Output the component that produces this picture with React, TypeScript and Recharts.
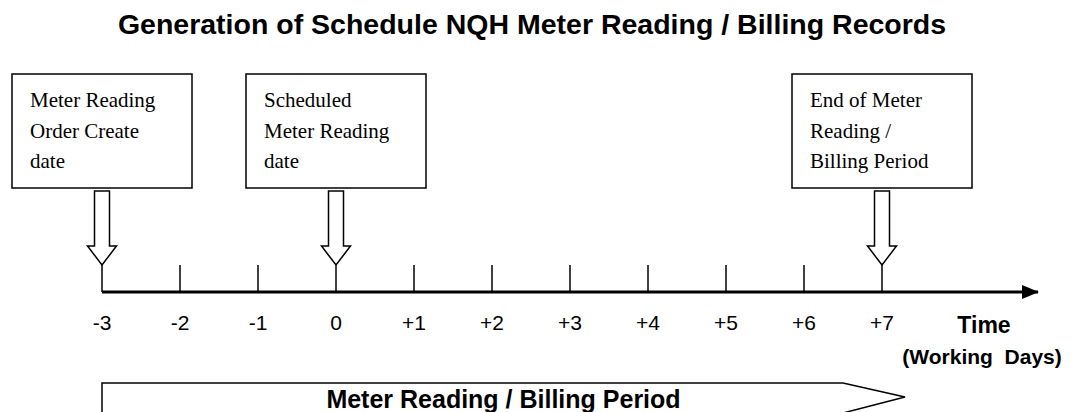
import React from 'react';
import {
  ComposedChart,
  XAxis,
  YAxis,
  Scatter,
  ReferenceDot,
  ReferenceArea,
  Customized
} from 'recharts';

document.body.style.margin = '0';

// working days on the time line
const DAYS = [-3, -2, -1, 0, 1, 2, 3, 4, 5, 6, 7];
const DOMAIN_END = 9;

// milestones with their box texts
const EVENT_DAYS = [-3, 0, 7];
const EVENT_TEXTS = [
  ['Meter Reading', 'Order Create', 'date'],
  ['Scheduled', 'Meter Reading', 'date'],
  ['End of Meter', 'Reading /', 'Billing Period']
];

const PERIOD_START = -3;
const PERIOD_END = 7;

const TITLE = 'Generation of Schedule NQH Meter Reading / Billing Records';
const PERIOD_LABEL = 'Meter Reading / Billing Period';

const SANS = 'Arial, "Liberation Sans", sans-serif';
const SERIF = '"Times New Roman", "Liberation Serif", serif';

const tickData = DAYS.map((d) => ({ day: d, y: 0 }));
const eventData = EVENT_DAYS.map((d, i) => ({ day: d, y: 0, lines: EVENT_TEXTS[i] }));

const fmtDay = (v: number) => (v > 0 ? `+${v}` : `${v}`);

const TickMark = (props: any) => {
  const { cx, cy } = props;
  return <line x1={cx} y1={cy - 27} x2={cx} y2={cy} stroke="#000" strokeWidth={1.5} />;
};

const EventMarker = (props: any) => {
  const { cx, cy, payload } = props;
  const top = cy - 218;
  const left = cx - 90;
  const bottom = top + 114;
  const shaftTop = bottom + 3;
  const shaftBottom = cy - 46;
  const tip = cy - 27;
  const pts = [
    [cx - 7.5, shaftTop],
    [cx + 7.5, shaftTop],
    [cx + 7.5, shaftBottom],
    [cx + 14.5, shaftBottom],
    [cx, tip],
    [cx - 14.5, shaftBottom],
    [cx - 7.5, shaftBottom]
  ]
    .map((p) => p.join(','))
    .join(' ');
  return (
    <g>
      <rect x={left} y={top} width={180} height={114} fill="#fff" stroke="#000" strokeWidth={1.5} />
      {payload.lines.map((t: string, i: number) => (
        <text key={t} x={left + 18} y={top + 33 + i * 30.5} fontFamily={SERIF} fontSize={21} fill="#000">
          {t}
        </text>
      ))}
      <polygon points={pts} fill="#fff" stroke="#000" strokeWidth={1.5} />
    </g>
  );
};

const AxisArrow = (props: any) => {
  const { cx, cy } = props;
  return <polygon points={`${cx - 16},${cy - 7} ${cx + 1},${cy} ${cx - 16},${cy + 7}`} fill="#000" />;
};

const PeriodArrow = (props: any) => {
  const { x, width } = props;
  const top = 383;
  const mid = 397;
  const bot = 413;
  const bodyEnd = x + width - 39;
  const tipX = x + width + 23;
  return (
    <g>
      <path
        d={`M${x},${bot} L${x},${top} L${bodyEnd},${top} L${tipX},${mid} L${bodyEnd},${bot}`}
        fill="none"
        stroke="#000"
        strokeWidth={1.5}
      />
      <text x={(x + tipX) / 2} y={408} textAnchor="middle" fontFamily={SANS} fontWeight="bold" fontSize={25} fill="#000">
        {PERIOD_LABEL}
      </text>
    </g>
  );
};

const DayTick = (props: any) => {
  const { x, y, payload } = props;
  return (
    <text x={x} y={y + 30} textAnchor="middle" fontFamily={SANS} fontSize={21} fill="#000">
      {fmtDay(payload.value)}
    </text>
  );
};

const Labels = () => (
  <g>
    <text x={532} y={34} textAnchor="middle" fontFamily={SANS} fontWeight="bold" fontSize={28.5} fill="#000">
      {TITLE}
    </text>
    <text x={984} y={333} textAnchor="middle" fontFamily={SANS} fontWeight="bold" fontSize={23} fill="#000">
      Time
    </text>
    <text x={982} y={364} textAnchor="middle" fontFamily={SANS} fontWeight="bold" fontSize={21} fill="#000" style={{ whiteSpace: 'pre' }}>
      (Working  Days)
    </text>
  </g>
);

export default function App() {
  return (
    <div style={{ width: 1073, height: 412, background: '#fff' }}>
      <ComposedChart width={1073} height={412} margin={{ top: 0, right: 35, bottom: 90, left: 102 }}>
        <XAxis
          type="number"
          dataKey="day"
          domain={[DAYS[0], DOMAIN_END]}
          ticks={DAYS}
          interval={0}
          height={30}
          tickLine={false}
          axisLine={{ stroke: '#000', strokeWidth: 3 }}
          tick={<DayTick />}
        />
        <YAxis type="number" dataKey="y" domain={[0, 1]} hide />
        <ReferenceArea x1={PERIOD_START} x2={PERIOD_END} shape={<PeriodArrow />} ifOverflow="visible" />
        <Scatter data={tickData} shape={<TickMark />} isAnimationActive={false} />
        <Scatter data={eventData} shape={<EventMarker />} isAnimationActive={false} />
        <ReferenceDot x={DOMAIN_END} y={0} shape={<AxisArrow />} ifOverflow="visible" />
        <Customized component={Labels} />
      </ComposedChart>
    </div>
  );
}
